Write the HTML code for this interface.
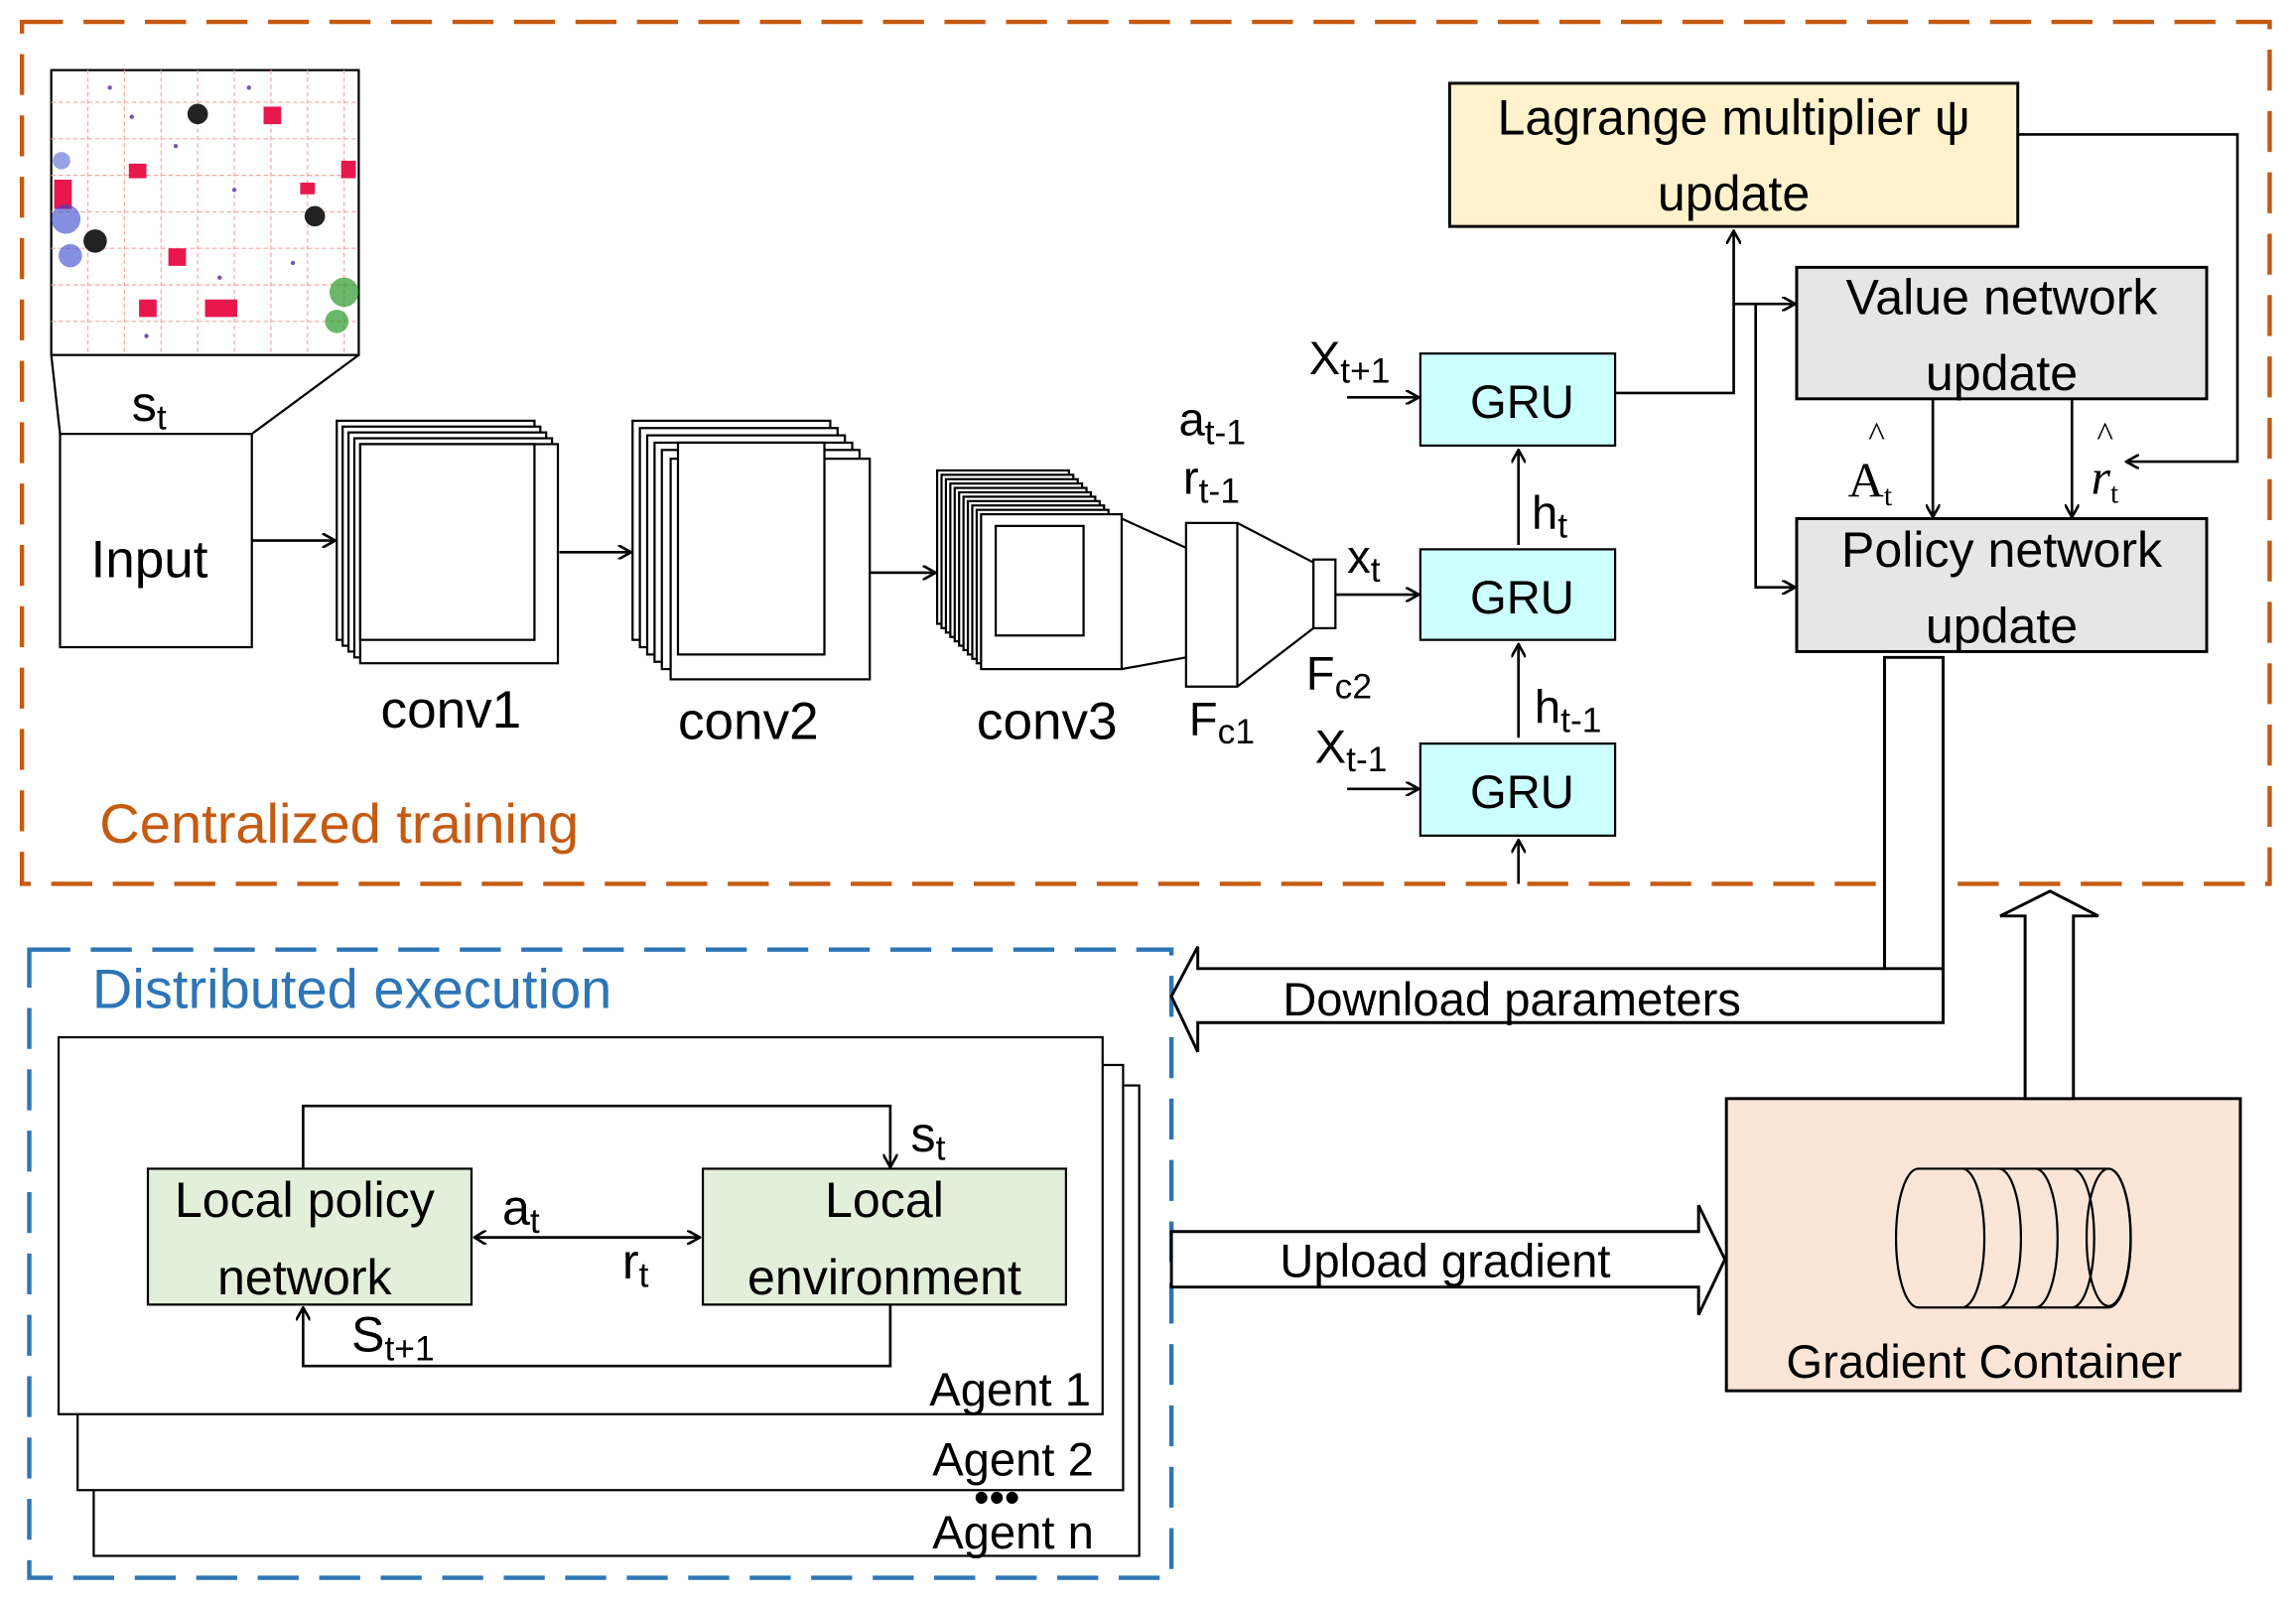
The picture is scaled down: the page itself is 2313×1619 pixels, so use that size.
<!DOCTYPE html>
<html><head><meta charset="utf-8"><style>
html,body{margin:0;padding:0;background:#fff}
svg{display:block}
text{font-family:"Liberation Sans",sans-serif;fill:#000}
</style></head><body>
<svg width="2313" height="1619" viewBox="0 0 1568 1100" preserveAspectRatio="none" xmlns="http://www.w3.org/2000/svg">
<defs>
<marker id="ah" markerWidth="10" markerHeight="10" refX="9" refY="5" orient="auto" markerUnits="userSpaceOnUse">
<path d="M0,0 L9,5 L0,10" fill="none" stroke="#000" stroke-width="1.8"/></marker>
<marker id="ahs" markerWidth="10" markerHeight="10" refX="1" refY="5" orient="auto" markerUnits="userSpaceOnUse">
<path d="M9,0 L1,5 L9,10" fill="none" stroke="#000" stroke-width="1.8"/></marker>
</defs>
<rect width="1568" height="1100" fill="#fff"/>
<!-- dashed containers -->
<rect x="15" y="15" width="1535" height="590" fill="none" stroke="#c55a11" stroke-width="3" stroke-dasharray="28,14"/>
<rect x="20" y="650" width="780" height="430" fill="none" stroke="#2e75b6" stroke-width="3" stroke-dasharray="28,14"/>
<text x="68" y="577" font-size="38" style="fill:#c55a11">Centralized training</text>
<text x="63" y="690" font-size="38" style="fill:#2e75b6">Distributed execution</text>

<!-- map -->
<rect x="35" y="48" width="210" height="195" fill="#fff" stroke="#000" stroke-width="1.5"/>
<g stroke="#f4a6a6" stroke-width="0.8" stroke-dasharray="3,2">
<line x1="35" y1="70" x2="245" y2="70"/><line x1="35" y1="95" x2="245" y2="95"/><line x1="35" y1="120" x2="245" y2="120"/><line x1="35" y1="145" x2="245" y2="145"/><line x1="35" y1="170" x2="245" y2="170"/><line x1="35" y1="195" x2="245" y2="195"/><line x1="35" y1="220" x2="245" y2="220"/>
<line x1="60" y1="48" x2="60" y2="243"/><line x1="85" y1="48" x2="85" y2="243"/><line x1="110" y1="48" x2="110" y2="243"/><line x1="135" y1="48" x2="135" y2="243"/><line x1="160" y1="48" x2="160" y2="243"/><line x1="185" y1="48" x2="185" y2="243"/><line x1="210" y1="48" x2="210" y2="243"/><line x1="235" y1="48" x2="235" y2="243"/>
</g>
<g fill="#e8174e"><rect x="180" y="73" width="12" height="12"/><rect x="88" y="112" width="12" height="10"/><rect x="37" y="123" width="12" height="20"/><rect x="233" y="110" width="10" height="12"/><rect x="115" y="170" width="12" height="12"/><rect x="140" y="205" width="22" height="12"/><rect x="95" y="205" width="12" height="12"/><rect x="205" y="125" width="10" height="8"/></g>
<g fill="#3344cc"><circle cx="45" cy="150" r="10" opacity="0.6"/><circle cx="48" cy="175" r="8" opacity="0.6"/><circle cx="42" cy="110" r="6" opacity="0.5"/></g>
<g fill="#2a9a2a"><circle cx="235" cy="200" r="10" opacity="0.7"/><circle cx="230" cy="220" r="8" opacity="0.7"/></g>
<g fill="#222"><circle cx="135" cy="78" r="7"/><circle cx="65" cy="165" r="8"/><circle cx="215" cy="148" r="7"/></g>
<g fill="#7a55aa"><circle cx="75" cy="60" r="1.5"/><circle cx="120" cy="100" r="1.5"/><circle cx="160" cy="130" r="1.5"/><circle cx="200" cy="180" r="1.5"/><circle cx="100" cy="230" r="1.5"/><circle cx="170" cy="60" r="1.5"/><circle cx="150" cy="190" r="1.5"/><circle cx="90" cy="80" r="1.5"/></g>
<line x1="35" y1="243" x2="41" y2="297" stroke="#000" stroke-width="1.5"/>
<line x1="245" y1="243" x2="172" y2="297" stroke="#000" stroke-width="1.5"/>
<text x="90" y="288" font-size="34">s<tspan font-size="24" dy="6">t</tspan></text>
<rect x="41" y="297" width="131" height="146" fill="#fff" stroke="#000" stroke-width="1.5"/>
<text x="62" y="395" font-size="36">Input</text>
<line x1="172" y1="370" x2="229" y2="370" stroke="#000" stroke-width="1.8" marker-end="url(#ah)"/>

<!-- conv1 -->
<g fill="#fff" stroke="#000" stroke-width="1.5">
<rect x="230" y="288" width="135" height="150"/><rect x="234" y="292" width="135" height="150"/><rect x="238" y="296" width="135" height="150"/><rect x="242" y="300" width="135" height="150"/><rect x="246" y="304" width="135" height="150"/>
<rect x="246" y="304" width="119" height="134"/>
</g>
<text x="260" y="498" font-size="36">conv1</text>
<line x1="382" y1="378" x2="431" y2="378" stroke="#000" stroke-width="1.8" marker-end="url(#ah)"/>
<!-- conv2 -->
<g fill="#fff" stroke="#000" stroke-width="1.5">
<rect x="432" y="288" width="135" height="150"/><rect x="437" y="293" width="135" height="150"/><rect x="442" y="298" width="135" height="150"/><rect x="447" y="303" width="135" height="150"/><rect x="452" y="308" width="135" height="150"/><rect x="458" y="314" width="136" height="151"/>
<rect x="463" y="303" width="100" height="145"/>
</g>
<text x="463" y="506" font-size="36">conv2</text>
<line x1="594" y1="392" x2="639" y2="392" stroke="#000" stroke-width="1.8" marker-end="url(#ah)"/>
<!-- conv3 -->
<g fill="#fff" stroke="#000" stroke-width="1.5">
<rect x="640" y="322" width="90" height="105"/><rect x="643" y="325" width="90" height="105"/><rect x="646" y="328" width="90" height="105"/><rect x="649" y="331" width="90" height="105"/><rect x="652" y="334" width="90" height="105"/><rect x="655" y="337" width="90" height="105"/><rect x="658" y="340" width="90" height="105"/><rect x="661" y="343" width="90" height="105"/><rect x="664" y="346" width="90" height="105"/><rect x="667" y="349" width="90" height="105"/><rect x="670" y="352" width="96" height="106"/>
<rect x="680" y="360" width="60" height="75"/>
</g>
<text x="667" y="506" font-size="36">conv3</text>
<line x1="766" y1="355" x2="810" y2="375" stroke="#000" stroke-width="1.5"/>
<line x1="766" y1="458" x2="810" y2="450" stroke="#000" stroke-width="1.5"/>
<!-- FC -->
<polygon points="810,358 845,358 897,385 897,430 845,470 810,470" fill="#fff" stroke="#000" stroke-width="1.5"/>
<line x1="845" y1="358" x2="845" y2="470" stroke="#000" stroke-width="1.5"/>
<rect x="897" y="383" width="15" height="47" fill="#fff" stroke="#000" stroke-width="1.5"/>
<text x="805" y="298" font-size="32">a<tspan font-size="24" dy="6">t-1</tspan></text>
<text x="808" y="338" font-size="32">r<tspan font-size="24" dy="6">t-1</tspan></text>
<text x="812" y="503" font-size="32">F<tspan font-size="24" dy="6">c1</tspan></text>
<text x="892" y="472" font-size="32">F<tspan font-size="24" dy="6">c2</tspan></text>
<text x="920" y="392" font-size="32">x<tspan font-size="24" dy="6">t</tspan></text>
<line x1="912" y1="407" x2="969" y2="407" stroke="#000" stroke-width="1.8" marker-end="url(#ah)"/>
<!-- GRUs -->
<g fill="#ccffff" stroke="#000" stroke-width="1.5">
<rect x="970" y="242" width="133" height="63"/><rect x="970" y="376" width="133" height="62"/><rect x="970" y="509" width="133" height="63"/></g>
<text x="1004" y="286" font-size="32">GRU</text>
<text x="1004" y="420" font-size="32">GRU</text>
<text x="1004" y="553" font-size="32">GRU</text>
<text x="894" y="256" font-size="32">X<tspan font-size="24" dy="6">t+1</tspan></text>
<line x1="920" y1="272" x2="969" y2="272" stroke="#000" stroke-width="1.8" marker-end="url(#ah)"/>
<text x="898" y="522" font-size="32">X<tspan font-size="24" dy="6">t-1</tspan></text>
<line x1="920" y1="540" x2="969" y2="540" stroke="#000" stroke-width="1.8" marker-end="url(#ah)"/>
<line x1="1037" y1="505" x2="1037" y2="441" stroke="#000" stroke-width="1.8" marker-end="url(#ah)"/>
<line x1="1037" y1="373" x2="1037" y2="308" stroke="#000" stroke-width="1.8" marker-end="url(#ah)"/>
<line x1="1037" y1="605" x2="1037" y2="575" stroke="#000" stroke-width="1.8" marker-end="url(#ah)"/>
<text x="1046" y="362" font-size="32">h<tspan font-size="24" dy="6">t</tspan></text>
<text x="1048" y="495" font-size="32">h<tspan font-size="24" dy="6">t-1</tspan></text>
<!-- update boxes -->
<rect x="990" y="57" width="388" height="98" fill="#fff2cc" stroke="#000" stroke-width="2"/>
<text x="1184" y="92" font-size="34" text-anchor="middle">Lagrange multiplier ψ</text>
<text x="1184" y="144" font-size="34" text-anchor="middle">update</text>
<rect x="1227" y="183" width="280" height="90" fill="#e7e6e6" stroke="#000" stroke-width="2"/>
<text x="1367" y="215" font-size="34" text-anchor="middle">Value network</text>
<text x="1367" y="267" font-size="34" text-anchor="middle">update</text>
<rect x="1227" y="355" width="280" height="91" fill="#e7e6e6" stroke="#000" stroke-width="2"/>
<text x="1367" y="388" font-size="34" text-anchor="middle">Policy network</text>
<text x="1367" y="440" font-size="34" text-anchor="middle">update</text>
<polyline points="1103,269 1184,269 1184,158" fill="none" stroke="#000" stroke-width="1.8" marker-end="url(#ah)"/>
<line x1="1184" y1="208" x2="1226" y2="208" stroke="#000" stroke-width="1.8" marker-end="url(#ah)"/>
<polyline points="1199,208 1199,402 1226,402" fill="none" stroke="#000" stroke-width="1.8" marker-end="url(#ah)"/>
<polyline points="1378,92 1528,92 1528,316 1452,316" fill="none" stroke="#000" stroke-width="1.8" marker-end="url(#ah)"/>
<line x1="1320" y1="273" x2="1320" y2="354" stroke="#000" stroke-width="1.8" marker-end="url(#ah)"/>
<line x1="1415" y1="273" x2="1415" y2="354" stroke="#000" stroke-width="1.8" marker-end="url(#ah)"/>
<text x="1262" y="340" font-size="34" style="font-family:'Liberation Serif',serif">A<tspan font-size="20" dy="6">t</tspan></text>
<text x="1276" y="305" font-size="24" style="font-family:'Liberation Serif',serif">^</text>
<text x="1428" y="338" font-size="34" font-style="italic" style="font-family:'Liberation Serif',serif">r<tspan font-size="20" dy="6" font-style="normal">t</tspan></text>
<text x="1432" y="305" font-size="24" style="font-family:'Liberation Serif',serif">^</text>
<!-- download arrow -->
<polygon points="1287,450 1327,450 1327,700 818,700 818,720 800,682 818,648 818,663 1287,663" fill="#fff" stroke="#000" stroke-width="2"/>
<line x1="1287" y1="663" x2="1327" y2="663" stroke="#000" stroke-width="2"/>
<text x="876" y="695" font-size="32">Download parameters</text>
<!-- upload arrow -->
<polygon points="800,843 1160,843 1160,825 1178,862 1160,900 1160,881 800,881" fill="#fff" stroke="#000" stroke-width="2"/>
<text x="874" y="874" font-size="32">Upload gradient</text>
<!-- gradient container -->
<rect x="1179" y="752" width="351" height="200" fill="#fbe5d6" stroke="#000" stroke-width="2"/>
<polygon points="1383,752 1383,627 1366,627 1400,610 1433,627 1416,627 1416,752" fill="#fff" stroke="#000" stroke-width="2"/>
<g fill="none" stroke="#000" stroke-width="1.5">
<path d="M1310,800 L1440,800 A15,47 0 0 1 1440,895 L1310,895 A15,47 0 0 1 1310,800 Z" fill="#fbe5d6"/>
<ellipse cx="1440" cy="847" rx="15" ry="47"/>
<path d="M1340,800 A15,47 0 0 1 1340,895"/><path d="M1365,800 A15,47 0 0 1 1365,895"/><path d="M1390,800 A15,47 0 0 1 1390,895"/><path d="M1415,800 A15,47 0 0 1 1415,895"/>
</g>
<text x="1355" y="943" font-size="32" text-anchor="middle">Gradient Container</text>
<!-- agents -->
<g fill="#fff" stroke="#000" stroke-width="1.5">
<rect x="64" y="743" width="714" height="322"/><rect x="53" y="729" width="714" height="291"/><rect x="40" y="710" width="713" height="258"/></g>
<text x="745" y="962" font-size="32" text-anchor="end">Agent 1</text>
<text x="747" y="1010" font-size="32" text-anchor="end">Agent 2</text>
<text x="747" y="1060" font-size="32" text-anchor="end">Agent n</text>
<text x="665" y="1035" font-size="30">•••</text>
<rect x="101" y="800" width="221" height="93" fill="#e2efda" stroke="#000" stroke-width="1.5"/>
<text x="208" y="833" font-size="34" text-anchor="middle">Local policy</text>
<text x="208" y="886" font-size="34" text-anchor="middle">network</text>
<rect x="480" y="800" width="248" height="93" fill="#e2efda" stroke="#000" stroke-width="1.5"/>
<text x="604" y="833" font-size="34" text-anchor="middle">Local</text>
<text x="604" y="886" font-size="34" text-anchor="middle">environment</text>
<polyline points="207,800 207,757 608,757 608,799" fill="none" stroke="#000" stroke-width="1.8" marker-end="url(#ah)"/>
<polyline points="608,893 608,935 207,935 207,895" fill="none" stroke="#000" stroke-width="1.8" marker-end="url(#ah)"/>
<line x1="324" y1="847" x2="478" y2="847" stroke="#000" stroke-width="1.8" marker-end="url(#ah)" marker-start="url(#ahs)"/>
<text x="343" y="838" font-size="34">a<tspan font-size="24" dy="6">t</tspan></text>
<text x="425" y="875" font-size="34">r<tspan font-size="24" dy="6">t</tspan></text>
<text x="622" y="788" font-size="34">s<tspan font-size="24" dy="6">t</tspan></text>
<text x="240" y="925" font-size="34">S<tspan font-size="24" dy="6">t+1</tspan></text>
</svg>
</body></html>
